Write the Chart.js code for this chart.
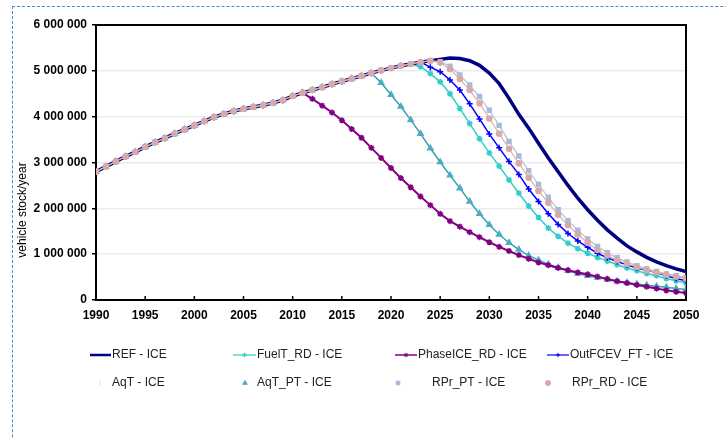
<!DOCTYPE html>
<html>
<head>
<meta charset="utf-8">
<script src="https://cdn.jsdelivr.net/npm/chart.js@4.4.1/dist/chart.umd.min.js"></script>
<style>
  html, body { margin: 0; padding: 0; background: #fff; }
  #wrap { position: relative; width: 726px; height: 439px; overflow: hidden; }
  #frame { position: absolute; left: 12px; top: 6px; width: 800px; height: 500px;
           border-left: 1px dashed #4f86c6; border-top: 1px dashed #4f86c6; }
  canvas { position: absolute; left: 0; top: 0; }
</style>
</head>
<body>
<div id="wrap">
  <div id="frame"></div>
  <canvas id="myChart" width="726" height="439"></canvas>
</div>
<script>
// values in millions of vehicles
const years = [];
for (let y = 1990; y <= 2050; y++) years.push(y);

// shared history 1990..2025
const common = [2.80, 2.91, 3.02, 3.13, 3.23, 3.34, 3.44, 3.53, 3.63, 3.72,
  3.81, 3.90, 3.99, 4.06, 4.12, 4.17, 4.21, 4.25, 4.30, 4.36,
  4.45, 4.52, 4.58, 4.64, 4.71, 4.77, 4.83, 4.89, 4.95, 5.01,
  5.06, 5.11, 5.15, 5.19, 5.22, 5.25];

// 2026..2050
const refTail = [5.28, 5.27, 5.22, 5.12, 4.95, 4.72, 4.40, 4.05, 3.75, 3.42,
  3.10, 2.80, 2.50, 2.22, 1.97, 1.74, 1.53, 1.35, 1.18, 1.05,
  0.93, 0.83, 0.75, 0.68, 0.62];
// 2023..2050
const fuelTail = [5.09, 4.94, 4.76, 4.50, 4.18, 3.85, 3.52, 3.21, 2.92, 2.62,
  2.33, 2.05, 1.80, 1.57, 1.39, 1.24, 1.12, 1.02, 0.93, 0.85,
  0.77, 0.70, 0.64, 0.58, 0.53, 0.47, 0.42, 0.37];
// 2012..2050
const phaseTail = [4.39, 4.24, 4.09, 3.92, 3.73, 3.54, 3.32, 3.10, 2.88, 2.66,
  2.46, 2.26, 2.07, 1.88, 1.72, 1.60, 1.48, 1.37, 1.26, 1.16,
  1.07, 0.98, 0.90, 0.82, 0.76, 0.70, 0.65, 0.60, 0.56, 0.51,
  0.46, 0.41, 0.37, 0.33, 0.29, 0.25, 0.21, 0.18, 0.15];
// 2024..2050
const fcevTail = [5.08, 4.98, 4.80, 4.58, 4.28, 3.95, 3.62, 3.32, 3.02, 2.74,
  2.42, 2.15, 1.88, 1.65, 1.45, 1.29, 1.15, 1.02, 0.92, 0.84,
  0.77, 0.70, 0.65, 0.60, 0.53, 0.47, 0.42];
// 2019..2050
const aqtPtTail = [4.74, 4.48, 4.22, 3.93, 3.63, 3.31, 3.01, 2.72, 2.44, 2.15,
  1.88, 1.64, 1.43, 1.25, 1.10, 0.97, 0.87, 0.78, 0.71, 0.64,
  0.58, 0.53, 0.49, 0.45, 0.41, 0.38, 0.35, 0.32, 0.30, 0.28,
  0.25, 0.23];
// 2025..2050
const rprPtTail = [5.20, 5.10, 4.91, 4.69, 4.44, 4.14, 3.81, 3.46, 3.14, 2.82, 2.52,
  2.24, 1.97, 1.73, 1.52, 1.33, 1.17, 1.03, 0.92, 0.83, 0.75,
  0.68, 0.62, 0.57, 0.53, 0.49];
// 2025..2050
const rprRdTail = [5.18, 5.04, 4.82, 4.58, 4.29, 3.96, 3.63, 3.30, 2.98, 2.67, 2.38,
  2.12, 1.86, 1.63, 1.43, 1.25, 1.09, 0.97, 0.87, 0.79, 0.72,
  0.65, 0.60, 0.55, 0.51, 0.47];

const yTicks = [0, 1, 2, 3, 4, 5, 6];
const xTicks = [1990, 1995, 2000, 2005, 2010, 2015, 2020, 2025, 2030, 2035, 2040, 2045, 2050];

function series(tail) {
  return common.slice(0, years.length - tail.length).concat(tail);
}

const refIce = series(refTail);
const fuelIce = series(fuelTail);
const phaseIce = series(phaseTail);
const fcevIce = series(fcevTail);
const aqtIce = series(refTail);
const aqtPtIce = series(aqtPtTail);
const rprPtIce = series(rprPtTail);
const rprRdIce = series(rprRdTail);

function fmt(m) {
  return String(Math.round(m * 1000000)).replace(/\B(?=(\d{3})+(?!\d))/g, ' ');
}

const FONT = '"Liberation Sans", Arial, sans-serif';

// legend slots: [sample x, text x, row y]
const legendPos = [
  [90, 112, 355], [233, 257, 355], [395, 418, 355], [547, 570, 355],
  [90, 112, 383], [233, 257, 383], [395, 432, 383], [547, 572, 383]
];

const frameAndLegend = {
  id: 'frameAndLegend',
  beforeDatasetsDraw(chart) {
    const { ctx, chartArea: a, scales } = chart;
    ctx.save();
    ctx.strokeStyle = '#000';
    ctx.lineWidth = 2;
    ctx.strokeRect(a.left, a.top, a.right - a.left, a.bottom - a.top);
    // x ticks pointing inward
    ctx.lineWidth = 1.5;
    xTicks.forEach(v => {
      const x = scales.x.getPixelForValue(v);
      ctx.beginPath();
      ctx.moveTo(x, a.bottom);
      ctx.lineTo(x, a.bottom - 4);
      ctx.stroke();
    });
    // y title
    ctx.translate(23, 210);
    ctx.rotate(-Math.PI / 2);
    ctx.fillStyle = '#000';
    ctx.font = '12px ' + FONT;
    ctx.textAlign = 'center';
    ctx.textBaseline = 'middle';
    ctx.fillText('vehicle stock/year', 0, 0);
    ctx.restore();
  },
  afterDraw(chart) {
    const { ctx } = chart;
    ctx.save();
    ctx.font = '12px ' + FONT;
    ctx.textBaseline = 'middle';
    chart.data.datasets.forEach((ds, i) => {
      const [sx, tx, y] = legendPos[i];
      const lineInLegend = !ds.legendMarkerX;
      if (lineInLegend) {
        ctx.strokeStyle = ds.borderColor;
        ctx.lineWidth = ds.legendLineWidth || 1.2;
        ctx.beginPath();
        ctx.moveTo(sx, y);
        ctx.lineTo(tx - 1, y);
        ctx.stroke();
      }
      if (ds.pointRadius > 0) {
        const mx = lineInLegend ? (sx + tx - 1) / 2 : ds.legendMarkerX;
        ctx.fillStyle = ds.pointBackgroundColor;
        ctx.strokeStyle = ds.pointBorderColor;
        ctx.lineWidth = 1;
        Chart.helpers.drawPoint(ctx, {
          pointStyle: ds.pointStyle, radius: lineInLegend ? 2.2 : 2.6,
          rotation: ds.rotation || 0, borderWidth: 1
        }, mx, y);
      }
      ctx.fillStyle = '#222';
      ctx.fillText(ds.label, tx, y);
    });
    ctx.restore();
  }
};

const datasets = [
  { label: 'REF - ICE', data: refIce, borderColor: '#000080', borderWidth: 3.5,
    legendLineWidth: 2.5, pointRadius: 0, order: 2 },
  { label: 'FuelT_RD - ICE', data: fuelIce, borderColor: '#33cccc', borderWidth: 1.5,
    pointStyle: 'star', pointRadius: 3, pointBorderColor: '#33cccc',
    pointBackgroundColor: '#33cccc', order: 4 },
  { label: 'PhaseICE_RD - ICE', data: phaseIce, borderColor: '#800080', borderWidth: 2,
    legendLineWidth: 1.5,
    pointStyle: 'star', pointRadius: 3, pointBorderWidth: 1.5, pointBorderColor: '#800080',
    pointBackgroundColor: '#800080', order: 5 },
  { label: 'OutFCEV_FT - ICE', data: fcevIce, borderColor: '#0000ff', borderWidth: 1.5,
    pointStyle: 'cross', pointRadius: 3, pointBorderWidth: 1.5, pointBorderColor: '#0000ff',
    pointBackgroundColor: '#0000ff', order: 3 },
  { label: 'AqT - ICE', data: aqtIce, borderColor: '#e6e2bc', showLine: false,
    pointStyle: 'line', rotation: 90, pointRadius: 2, pointBorderColor: '#e6e2bc',
    pointBackgroundColor: '#e6e2bc', order: 9, legendMarkerX: 100 },
  { label: 'AqT_PT - ICE', data: aqtPtIce, borderColor: '#3a9fae', borderWidth: 1.5,
    pointStyle: 'triangle', pointRadius: 3, pointBorderColor: '#4bacc6',
    pointBackgroundColor: '#4bacc6', order: 6, legendMarkerX: 245 },
  { label: 'RPr_PT - ICE', data: rprPtIce, borderColor: '#b0c0dc', borderWidth: 1.2,
    pointStyle: 'rect', pointRadius: 3, pointBorderColor: '#a9bad8',
    pointBackgroundColor: '#a9bad8', order: 1, legendMarkerX: 398 },
  { label: 'RPr_RD - ICE', data: rprRdIce, borderColor: '#dcb0b0', borderWidth: 1.2,
    pointStyle: 'circle', pointRadius: 2.7, pointBorderColor: '#d9a9a9',
    pointBackgroundColor: '#d9a9a9', order: 0, legendMarkerX: 548 }
];

new Chart(document.getElementById('myChart').getContext('2d'), {
  type: 'line',
  data: {
    datasets: datasets.map(d => Object.assign({ tension: 0, fill: false, pointHoverRadius: 0 }, d, {
      data: d.data.map((v, i) => ({ x: years[i], y: v }))
    }))
  },
  options: {
    responsive: false,
    animation: false,
    events: [],
    layout: { padding: { left: 0, top: 25, right: 40, bottom: 109 } },
    plugins: { legend: { display: false }, tooltip: { enabled: false } },
    scales: {
      x: {
        type: 'linear', min: 1990, max: 2050,
        afterFit: s => { s.height = 30; },
        afterBuildTicks: s => { s.ticks = xTicks.map(v => ({ value: v })); },
        grid: { display: false },
        border: { display: false },
        ticks: { color: '#000', padding: 0, maxRotation: 0,
          font: { family: FONT, size: 12, weight: 'bold' },
          callback: v => String(v) }
      },
      y: {
        min: 0, max: 6,
        afterFit: s => { s.width = 96; },
        afterBuildTicks: s => { s.ticks = yTicks.map(v => ({ value: v })); },
        grid: { color: '#ebebeb', lineWidth: 1.5, tickColor: '#000', tickLength: 4, tickWidth: 1.5 },
        border: { display: false },
        ticks: { color: '#000', padding: 5,
          font: { family: FONT, size: 12, weight: 'bold' },
          callback: v => fmt(v) }
      }
    }
  },
  plugins: [frameAndLegend]
});
</script>
</body>
</html>
